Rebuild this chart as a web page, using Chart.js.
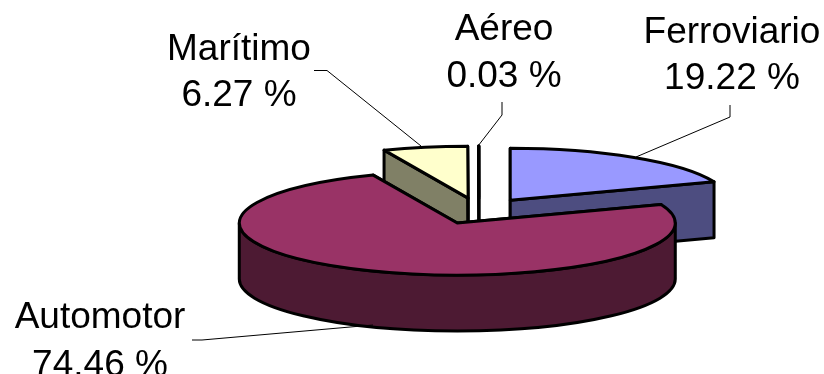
<!DOCTYPE html>
<html>
<head>
<meta charset="utf-8">
<title>Transporte</title>
<script src="https://cdn.jsdelivr.net/npm/chart.js"></script>
<style>
    html, body { margin: 0; background: #fff; }
    canvas { display: block; }
</style>
</head>
<body>
<canvas id="my-chart" width="824" height="374"></canvas>
<script>
// slices, clockwise from twelve o'clock
const categories = ['Ferroviario', 'Automotor', 'Marítimo', 'Aéreo'];
const percents = [19.22, 74.46, 6.27, 0.03];

const topColors = ['#9999ff', '#993366', '#ffffcc', '#ccffff'];
const sideColors = ['#4d4d80', '#4d1a33', '#808066', '#668080'];

// back to front, so the big slice ends up over the others
const paintOrder = [2, 3, 0, 1];

// tilt of the pie and height of its wall
const squash = 0.2385;
const wallHeight = 56;
const explode = 55;

// x centre, two baselines, then the leader polyline for each label
const labelLayout = [
    { x: 732, y: [43, 89], leader: [[730, 105], [730, 117], [636, 157]] },
    { x: 100, y: [328, 376], leader: [[192, 340], [202, 340], [373, 325]] },
    { x: 239, y: [60, 106], leader: [[314, 70.5], [327, 70.5], [421, 146]] },
    { x: 504, y: [40, 87], leader: [[502, 102], [502, 115], [478, 146]] }
];

// where a slice sits on screen once it is pulled out of the pie
function sliceCentre(arc) {
    let mid = (arc.startAngle + arc.endAngle) / 2;
    return {
        x: arc.x + Math.cos(mid) * explode,
        y: arc.y + Math.sin(mid) * explode * squash
    };
}

function wedgePath(ctx, c, arc) {
    let r = arc.outerRadius;
    ctx.beginPath();
    ctx.moveTo(c.x, c.y);
    ctx.ellipse(c.x, c.y, r, r * squash, 0, arc.startAngle, arc.endAngle);
    ctx.closePath();
}

function paintCut(ctx, c, arc, angle, color) {
    let r = arc.outerRadius;
    let ex = c.x + Math.cos(angle) * r;
    let ey = c.y + Math.sin(angle) * r * squash;
    ctx.beginPath();
    ctx.moveTo(c.x, c.y);
    ctx.lineTo(ex, ey);
    ctx.lineTo(ex, ey + wallHeight);
    ctx.lineTo(c.x, c.y + wallHeight);
    ctx.closePath();
    ctx.fillStyle = color;
    ctx.fill();
    ctx.stroke();
}

// outer wall, only the part of the rim that faces the viewer
function paintRim(ctx, c, arc, color) {
    let from = Math.max(arc.startAngle, 0);
    let to = Math.min(arc.endAngle, Math.PI);
    if (to <= from) {
        return;
    }
    let r = arc.outerRadius;
    ctx.beginPath();
    ctx.ellipse(c.x, c.y, r, r * squash, 0, from, to);
    ctx.ellipse(c.x, c.y + wallHeight, r, r * squash, 0, to, from, true);
    ctx.closePath();
    ctx.fillStyle = color;
    ctx.fill();
    ctx.stroke();
}

const tiltedPie = {
    id: 'tiltedPie',
    beforeDatasetDraw(chart, args) {
        let ctx = chart.ctx;
        let arcs = args.meta.data;
        ctx.save();
        ctx.lineWidth = 3;
        ctx.lineJoin = 'round';
        ctx.strokeStyle = '#000';
        for (let i of paintOrder) {
            let arc = arcs[i];
            let c = sliceCentre(arc);
            paintCut(ctx, c, arc, arc.startAngle, sideColors[i]);
            paintCut(ctx, c, arc, arc.endAngle, sideColors[i]);
            paintRim(ctx, c, arc, sideColors[i]);
            // the library fills the top face, flattened and moved out
            ctx.save();
            ctx.translate(c.x - arc.x, c.y);
            ctx.scale(1, squash);
            ctx.translate(0, -arc.y);
            arc.draw(ctx);
            ctx.restore();
            wedgePath(ctx, c, arc);
            ctx.stroke();
        }
        ctx.restore();
        return false;
    },
    afterDatasetsDraw(chart) {
        let ctx = chart.ctx;
        ctx.save();
        ctx.strokeStyle = '#000';
        ctx.lineWidth = 1;
        ctx.fillStyle = '#000';
        ctx.font = '37px "Liberation Sans"';
        ctx.textAlign = 'center';
        ctx.textBaseline = 'alphabetic';
        for (let i = 0; i < categories.length; i++) {
            let box = labelLayout[i];
            ctx.fillText(categories[i], box.x, box.y[0]);
            ctx.fillText(percents[i].toFixed(2) + ' %', box.x, box.y[1]);
            ctx.beginPath();
            box.leader.forEach((p, n) => n ? ctx.lineTo(p[0], p[1]) : ctx.moveTo(p[0], p[1]));
            ctx.stroke();
        }
        ctx.restore();
    }
};

new Chart(document.getElementById('my-chart'), {
    type: 'pie',
    data: {
        labels: categories,
        datasets: [{
            data: percents,
            backgroundColor: topColors,
            borderWidth: 0
        }]
    },
    options: {
        responsive: false,
        animation: false,
        rotation: 0,
        radius: 218,
        // puts the pie centre at 479, 211
        layout: { padding: { left: 134, top: 48 } },
        plugins: {
            legend: { display: false },
            tooltip: { enabled: false }
        }
    },
    plugins: [tiltedPie]
});
</script>
</body>
</html>
